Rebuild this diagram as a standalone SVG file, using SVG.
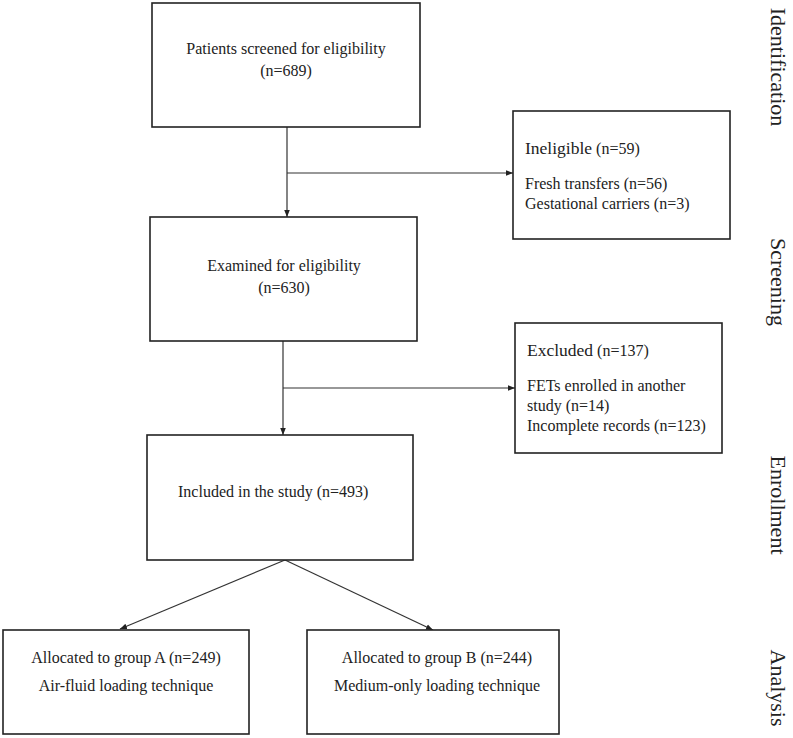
<svg xmlns="http://www.w3.org/2000/svg" width="793" height="738" viewBox="0 0 793 738">
<style>
.box{fill:#fff;stroke:#222;stroke-width:1.6}
.t{font-family:"Liberation Serif","Times New Roman",serif;font-size:16px;fill:#222}
.c{text-anchor:middle}
.h{font-size:17.5px}
.side{font-family:"Liberation Serif","Times New Roman",serif;font-size:22px;fill:#222;text-anchor:middle}
.ln{stroke:#333;stroke-width:1.2;fill:none}
</style>
<defs>
<marker id="ar" viewBox="0 0 10 10" refX="10" refY="5" markerWidth="7" markerHeight="7" markerUnits="userSpaceOnUse" orient="auto">
<path d="M0,1 L10,5 L0,9 Z" fill="#222"/>
</marker>
</defs>
<rect width="793" height="738" fill="#fff"/>
<g id="connectors">
<line class="ln" x1="287" y1="127" x2="287" y2="217" marker-end="url(#ar)"/>
<line class="ln" x1="287" y1="173" x2="513" y2="173" marker-end="url(#ar)"/>
<line class="ln" x1="283" y1="341" x2="283" y2="435" marker-end="url(#ar)"/>
<line class="ln" x1="283" y1="388" x2="515" y2="388" marker-end="url(#ar)"/>
<line class="ln" x1="285" y1="560" x2="120" y2="629" marker-end="url(#ar)"/>
<line class="ln" x1="285" y1="560" x2="433" y2="630" marker-end="url(#ar)"/>
</g>
<g id="screened">
<rect class="box" x="152" y="3" width="268" height="124"/>
<text class="t c" x="286" y="54">Patients screened for eligibility</text>
<text class="t c" x="286" y="76">(n=689)</text>
</g>
<g id="ineligible">
<rect class="box" x="513" y="111" width="217" height="128"/>
<text class="t" x="525" y="154"><tspan class="h">Ineligible</tspan> (n=59)</text>
<text class="t" x="525" y="189">Fresh transfers (n=56)</text>
<text class="t" x="525" y="209">Gestational carriers (n=3)</text>
</g>
<g id="examined">
<rect class="box" x="150" y="217" width="267" height="124"/>
<text class="t c" x="284" y="271">Examined for eligibility</text>
<text class="t c" x="284" y="293">(n=630)</text>
</g>
<g id="excluded">
<rect class="box" x="515" y="323" width="207" height="130"/>
<text class="t" x="527" y="356"><tspan class="h">Excluded</tspan> (n=137)</text>
<text class="t" x="527" y="391">FETs enrolled in another</text>
<text class="t" x="527" y="411">study (n=14)</text>
<text class="t" x="527" y="431">Incomplete records (n=123)</text>
</g>
<g id="included">
<rect class="box" x="147" y="435" width="266" height="125"/>
<text class="t" x="178" y="497">Included in the study (n=493)</text>
</g>
<g id="groupA">
<rect class="box" x="3" y="630" width="246" height="104"/>
<text class="t c" x="126" y="663">Allocated to group A (n=249)</text>
<text class="t c" x="126" y="691">Air-fluid loading technique</text>
</g>
<g id="groupB">
<rect class="box" x="307" y="630" width="252" height="104"/>
<text class="t c" x="437" y="663">Allocated to group B (n=244)</text>
<text class="t c" x="437" y="691">Medium-only loading technique</text>
</g>
<g id="stages">
<text class="side" transform="translate(771,67) rotate(90)">Identification</text>
<text class="side" transform="translate(771,282) rotate(90)">Screening</text>
<text class="side" transform="translate(771,505) rotate(90)">Enrollment</text>
<text class="side" transform="translate(771,688) rotate(90)">Analysis</text>
</g>
</svg>
